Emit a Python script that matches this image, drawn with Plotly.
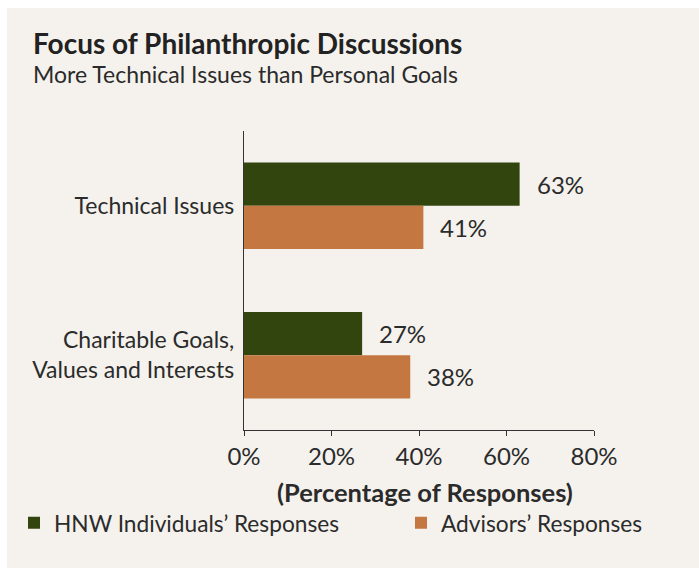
import plotly.graph_objects as go

# ---- data ----
categories = ["Technical Issues", "Charitable Goals,<br>Values and Interests"]
hnw_values = [63, 27]
advisor_values = [41, 38]
series_names = ["HNW Individuals’ Responses", "Advisors’ Responses"]
x_tick_values = [0, 20, 40, 60, 80]
x_tick_labels = ["0%", "20%", "40%", "60%", "80%"]

title_text = "Focus of Philanthropic Discussions"
subtitle_text = "More Technical Issues than Personal Goals"
axis_title_text = "(Percentage of Responses)"

# ---- style ----
GREEN = "#33450f"
ORANGE = "#c47740"
PANEL = "#f5f2ed"
INK = "#2b2b2b"
AXIS = "#333333"
FONT = "Lato, 'Open Sans', sans-serif"

W, H = 699, 568
L, R, T, B = 244, 105, 131, 138
PW = W - L - R
PH = H - T - B


def px_x(px):
    return (px - L) / PW


def px_y(py):
    return (H - B - py) / PH


fig = go.Figure()
for name, vals, color, leg in [(series_names[0], hnw_values, GREEN, "legend"),
                               (series_names[1], advisor_values, ORANGE, "legend2")]:
    fig.add_trace(go.Bar(
        y=categories, x=vals, name=name, orientation="h",
        marker=dict(color=color, line=dict(width=0)),
        hoverinfo="x+name", legend=leg,
    ))

annotations = []
# value labels beside each bar
for vals, shift in [(hnw_values, 21.5), (advisor_values, -21.5)]:
    for cat, v in zip(categories, vals):
        annotations.append(dict(
            x=v, y=cat, xref="x", yref="y", text=f"{v}%",
            showarrow=False, xanchor="left", yanchor="middle",
            xshift=15, yshift=shift,
            font=dict(family=FONT, size=24, color=INK),
        ))

annotations += [
    dict(x=px_x(31), y=px_y(43), xref="paper", yref="paper",
         text=f"<b>{title_text}</b>", showarrow=False,
         xanchor="left", yanchor="middle",
         font=dict(family=FONT, size=28, color="#222222")),
    dict(x=px_x(31), y=px_y(74), xref="paper", yref="paper",
         text=subtitle_text, showarrow=False,
         xanchor="left", yanchor="middle",
         font=dict(family=FONT, size=23, color=INK)),
    dict(x=px_x(424.6), y=px_y(491.7), xref="paper", yref="paper",
         text=f"<b>{axis_title_text}</b>", showarrow=False,
         xanchor="center", yanchor="middle",
         font=dict(family=FONT, size=25.5, color=INK)),
]

legend_common = dict(
    orientation="h", xanchor="left", y=px_y(523), yanchor="middle",
    bgcolor="rgba(0,0,0,0)", borderwidth=0,
    font=dict(family=FONT, size=22.7, color=INK),
)

fig.update_layout(
    width=W, height=H,
    margin=dict(l=L, r=R, t=T, b=B, pad=0),
    paper_bgcolor="white",
    plot_bgcolor="rgba(0,0,0,0)",
    barmode="group", bargap=0.42, bargroupgap=0,
    font=dict(family=FONT, size=23, color=INK),
    showlegend=True,
    legend=dict(x=px_x(14), **legend_common),
    legend2=dict(x=px_x(401), **legend_common),
    shapes=[dict(
        type="rect", xref="paper", yref="paper", layer="below",
        x0=px_x(7), x1=px_x(W + 2), y0=px_y(H + 2), y1=px_y(8),
        fillcolor=PANEL, line=dict(width=0),
    )],
    annotations=annotations,
)

fig.update_xaxes(
    range=[0, 80], tickvals=x_tick_values, ticktext=x_tick_labels,
    showline=True, linecolor=AXIS, linewidth=1.3,
    ticks="outside", ticklen=5, tickwidth=1.3, tickcolor=AXIS,
    showgrid=False, zeroline=False, fixedrange=True,
    tickfont=dict(family=FONT, size=24, color=INK),
)
fig.update_yaxes(
    range=[1.5, -0.5], showline=True, linecolor=AXIS, linewidth=1.3,
    ticks="", showgrid=False, zeroline=False, fixedrange=True,
    ticklabelstandoff=4,
    tickfont=dict(family=FONT, size=23, color=INK),
)

fig.write_html("out.html")
